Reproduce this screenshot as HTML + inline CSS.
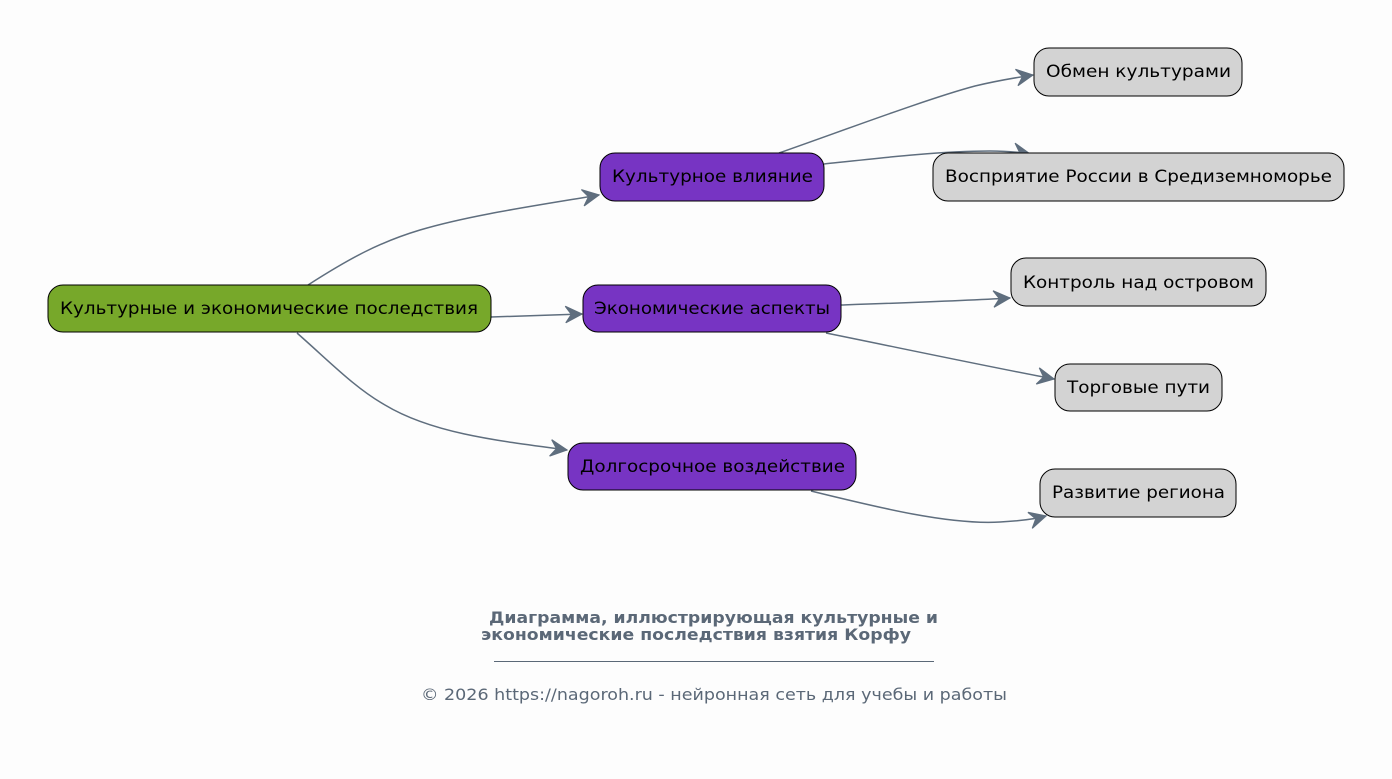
<!DOCTYPE html>
<html>
<head>
<meta charset="utf-8">
<style>
html,body{margin:0;padding:0;background:#fdfdfd;}
svg{display:block;}
text{font-family:"DejaVu Sans","Liberation Sans","Noto Sans CJK SC",sans-serif;}
</style>
</head>
<body>
<svg width="1392" height="779" viewBox="0 0 1392 779" xmlns="http://www.w3.org/2000/svg">
<defs>
<marker id="v" markerUnits="userSpaceOnUse" markerWidth="20" markerHeight="20" viewBox="-15 -8 17 16" refX="0" refY="0" orient="auto">
<path d="M0,0 L-14,-7 L-9,0 L-14,7 Z" fill="#5f6e7e" stroke="#5f6e7e" stroke-width="1" stroke-linejoin="miter"/>
</marker>
</defs>
<rect width="1392" height="779" fill="#fdfdfd"/>
<g fill="none" stroke="#5f6e7e" stroke-width="1.5" marker-end="url(#v)">
<path d="M308,285 C350,258 380,242 420,230 C470,215 540,205 599,195"/>
<path d="M491,317 L582,314"/>
<path d="M297,333 C330,362 355,388 385,405 C430,432 490,440 567,450"/>
<path d="M779,153 C850,128 930,98 975,86 C1000,80 1020,77 1033,75"/>
<path d="M824,164 C880,158 940,151 990,151 C1005,151 1018,152 1030,154"/>
<path d="M841,305 C900,303 960,301 1010,298"/>
<path d="M826,333 C900,348 990,367 1054,379"/>
<path d="M811,491 C880,508 950,525 1000,522 C1020,521 1035,519 1046,516"/>
</g>
<g stroke="#000" stroke-width="1">
<rect x="48" y="285" width="443" height="47" rx="15" fill="#77a82a"/>
<rect x="600" y="153" width="224" height="48" rx="15" fill="#7734c3"/>
<rect x="583" y="285" width="258" height="47" rx="15" fill="#7734c3"/>
<rect x="568" y="443" width="288" height="47" rx="15" fill="#7734c3"/>
<rect x="1034" y="48" width="208" height="48" rx="15" fill="#d3d3d3"/>
<rect x="933" y="153" width="411" height="48" rx="15" fill="#d3d3d3"/>
<rect x="1011" y="258" width="255" height="48" rx="15" fill="#d3d3d3"/>
<rect x="1055" y="364" width="167" height="47" rx="15" fill="#d3d3d3"/>
<rect x="1040" y="469" width="196" height="48" rx="15" fill="#d3d3d3"/>
</g>
<g font-size="17" fill="#000">
<text x="60" y="314" textLength="418" lengthAdjust="spacingAndGlyphs">Культурные и экономические последствия</text>
<text x="612" y="182" textLength="201" lengthAdjust="spacingAndGlyphs">Культурное влияние</text>
<text x="594" y="314" textLength="236" lengthAdjust="spacingAndGlyphs">Экономические аспекты</text>
<text x="580" y="472" textLength="265" lengthAdjust="spacingAndGlyphs">Долгосрочное воздействие</text>
<text x="1046" y="77" textLength="185" lengthAdjust="spacingAndGlyphs">Обмен культурами</text>
<text x="945" y="182" textLength="387" lengthAdjust="spacingAndGlyphs">Восприятие России в Средиземноморье</text>
<text x="1023" y="288" textLength="231" lengthAdjust="spacingAndGlyphs">Контроль над островом</text>
<text x="1067" y="393" textLength="143" lengthAdjust="spacingAndGlyphs">Торговые пути</text>
<text x="1052" y="498" textLength="173" lengthAdjust="spacingAndGlyphs">Развитие региона</text>
</g>
<g fill="#5b6877">
<text x="489" y="623" font-size="16" font-weight="bold" textLength="449" lengthAdjust="spacingAndGlyphs">Диаграмма, иллюстрирующая культурные и</text>
<text x="481" y="640" font-size="16" font-weight="bold" textLength="430" lengthAdjust="spacingAndGlyphs">экономические последствия взятия Корфу</text>
<text x="421" y="700" font-size="16" textLength="586" lengthAdjust="spacingAndGlyphs">© 2026 https://nagoroh.ru - нейронная сеть для учебы и работы</text>
</g>
<line x1="494" y1="661.5" x2="934" y2="661.5" stroke="#5b6877" stroke-width="1"/>
</svg>
</body>
</html>
